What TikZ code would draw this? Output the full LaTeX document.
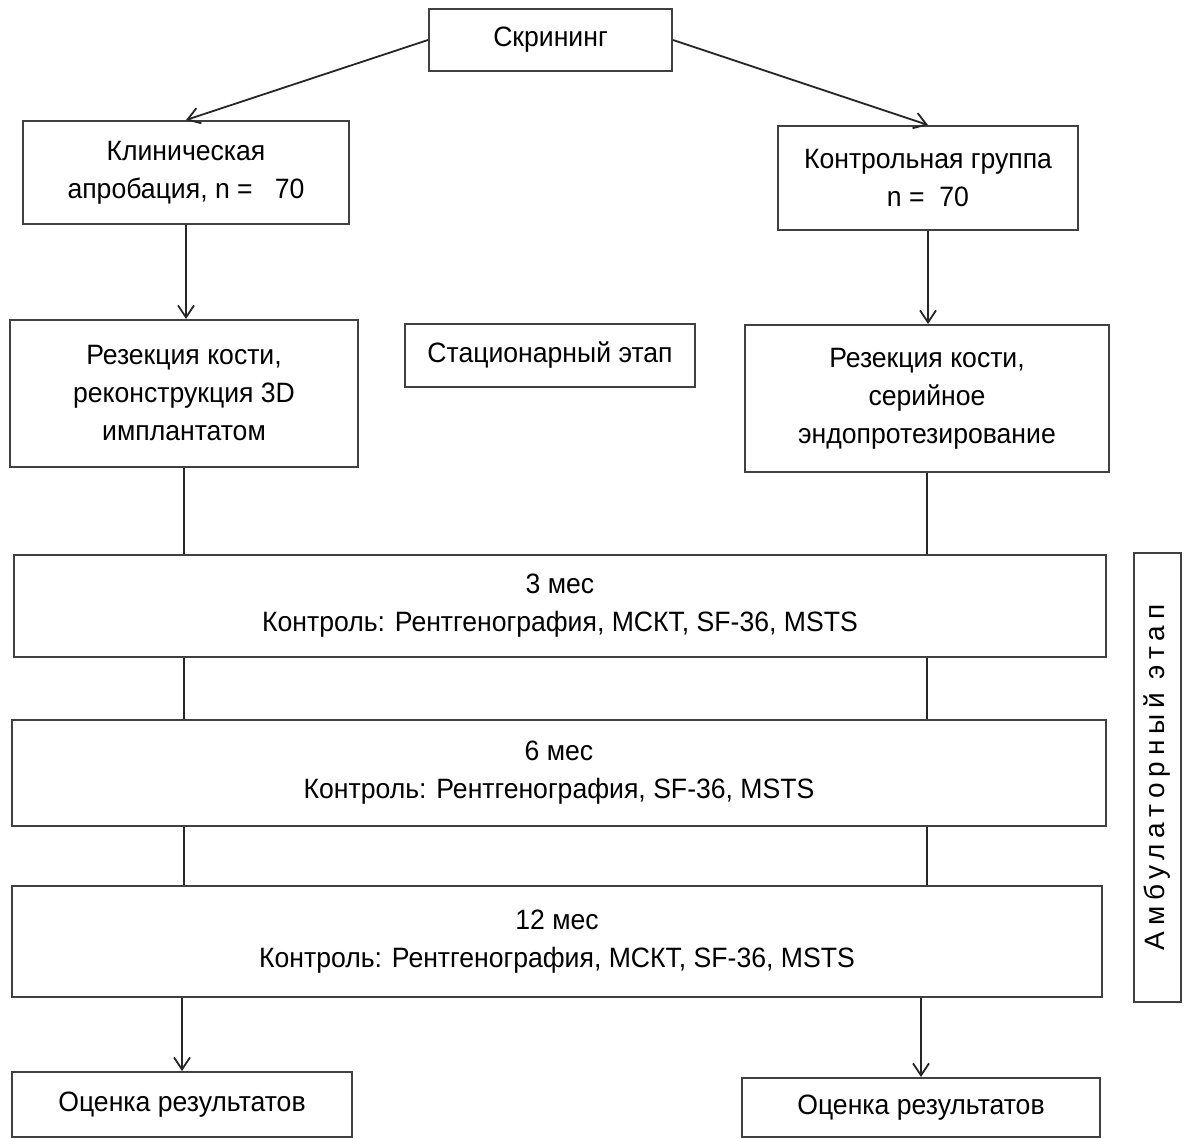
\documentclass[tikz,border=0pt]{standalone}
\usepackage{fontspec}
\setmainfont{Liberation Sans}[FakeStretch=0.95]
\newfontfamily\ambfont{Liberation Sans}[LetterSpace=21]
\usetikzlibrary{arrows.meta}

\begin{document}
\begin{tikzpicture}[x=0.5pt,y=-0.5pt,>={Straight Barb[length=6pt,width=8pt]},
  every node/.style={font=\fontsize{14}{19}\selectfont},
  blk/.style={draw=black!75,line width=1pt,align=center,inner sep=2pt},
  lnk/.style={line width=0.9pt,draw=black!85}]
\useasboundingbox (0,0) rectangle (1190,1139);
% top
\node[blk,minimum width=121.5pt,minimum height=31pt] (scr) at (550.5,40) {Скрининг};
\node[blk,minimum width=163pt,minimum height=51.5pt] (clin) at (186,172.5) {Клиническая\\апробация, n = \ \ 70};
\node[blk,minimum width=150pt,minimum height=52pt] (ctrl) at (928,178) {Контрольная группа\\n = \ 70};
% hospital stage
\node[blk,minimum width=174pt,minimum height=73.5pt] (resL) at (184,393.5) {Резекция кости,\\реконструкция 3D\\имплантатом};
\node[blk,minimum width=145pt,minimum height=31.5pt] (stac) at (550,355.5) {Стационарный этап};
\node[blk,minimum width=182pt,minimum height=73.5pt] (resR) at (927,398.5) {Резекция кости,\\серийное\\эндопротезирование};
% follow-up
\node[blk,minimum width=546pt,minimum height=51pt] (m3) at (560,606) {3 мес\\Контроль: Рентгенография, МСКТ, SF-36, MSTS};
\node[blk,minimum width=547pt,minimum height=53pt] (m6) at (559,773) {6 мес\\Контроль: Рентгенография, SF-36, MSTS};
\node[blk,minimum width=545pt,minimum height=55.5pt] (m12) at (557,941.5) {12 мес\\Контроль: Рентгенография, МСКТ, SF-36, MSTS};
\node[blk,rotate=90,minimum width=224.5pt,minimum height=23.5pt] (amb) at (1157.5,777.5) {\ambfont Амбулаторный этап};
% results
\node[blk,minimum width=170pt,minimum height=32.5pt] (evL) at (182,1104.5) {Оценка результатов};
\node[blk,minimum width=179pt,minimum height=29.5pt] (evR) at (921,1107.5) {Оценка результатов};

\draw[lnk,->] (scr.west) -- (clin.north);
\draw[lnk,->] (scr.east) -- (ctrl.north);
\draw[lnk,->] (clin.south) -- (clin.south |- resL.north);
\draw[lnk,->] (ctrl.south) -- (ctrl.south |- resR.north);
\draw[lnk] (resL.south) -- (resL.south |- m3.north);
\draw[lnk] (resR.south) -- (resR.south |- m3.north);
\draw[lnk] (resL.south |- m3.south) -- (resL.south |- m6.north);
\draw[lnk] (resR.south |- m3.south) -- (resR.south |- m6.north);
\draw[lnk] (resL.south |- m6.south) -- (resL.south |- m12.north);
\draw[lnk] (resR.south |- m6.south) -- (resR.south |- m12.north);
\draw[lnk,->] (evL.north |- m12.south) -- (evL.north);
\draw[lnk,->] (evR.north |- m12.south) -- (evR.north);
\end{tikzpicture}
\end{document}
